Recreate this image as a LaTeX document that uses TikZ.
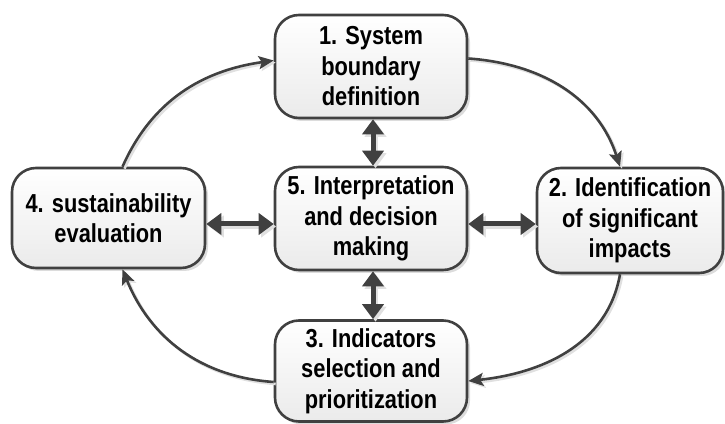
\documentclass[tikz,border=0pt]{standalone}
\usepackage{fontspec}
\setmainfont[FakeStretch=0.84]{Liberation Sans}
\usetikzlibrary{arrows.meta,shadows}
\definecolor{edge}{HTML}{404040}
\definecolor{shade}{HTML}{DCDCDC}
\begin{document}
\begin{tikzpicture}[x=1pt,y=1pt,
  box/.style={rounded corners=24pt, draw=edge, line width=2.6pt,
    top color=white, bottom color=black!8, align=center, inner sep=0pt,
    font=\fontsize{26}{30.5}\selectfont\bfseries,
    drop shadow={shadow xshift=3pt, shadow yshift=-3pt, fill=shade, opacity=1}},
  flow/.style={draw=edge, line width=2.6pt, -{Stealth[length=15pt,width=13pt,inset=3pt]},
    preaction={draw=black!12, line width=2.6pt, transform canvas={xshift=2pt,yshift=-2pt}}},
  dbl/.style={draw=edge, line width=5pt, {Triangle[length=15pt,width=21pt]}-{Triangle[length=15pt,width=21pt]},
    preaction={draw=black!12, line width=5pt, transform canvas={xshift=2.5pt,yshift=-2.5pt}}}]
\useasboundingbox (0,0) rectangle (725,423);
\node[box, minimum width=192pt, minimum height=103pt] (n1) at (371,356.5) {1. System\\boundary\\definition};
\node[box, minimum width=192pt, minimum height=103pt] (n5) at (371,204.5) {5. Interpretation\\and decision\\making};
\node[box, minimum width=192pt, minimum height=101pt] (n3) at (371,52) {3. Indicators\\selection and\\prioritization};
\node[box, minimum width=186pt, minimum height=105pt] (n2) at (630,202.5) {2. Identification\\of significant\\impacts};
\node[box, minimum width=193pt, minimum height=100pt] (n4) at (108.5,205) {4. sustainability\\evaluation};
\coordinate (hl) at (0,199);
% cycle arrows
\draw[flow] ([xshift=14pt]n4.north) to[out=66, in=188] ([yshift=6pt]n1.west);
\draw[flow] ([yshift=8pt]n1.east) to[out=-4, in=108] ([xshift=-10pt]n2.north);
\draw[flow] ([xshift=-10pt]n2.south) to[out=-100, in=6] ([yshift=-10pt]n3.east);
\draw[flow] ([yshift=-11pt]n3.west) to[out=176, in=-68] ([xshift=14pt]n4.south);
% double arrows
\draw[dbl] ([xshift=2pt]n1.south) -- ([xshift=2pt]n5.north);
\draw[dbl] ([xshift=2pt]n5.south) -- ([xshift=2pt]n3.north);
\draw[dbl] (n4.east |- hl) -- (n5.west |- hl);
\draw[dbl] (n5.east |- hl) -- (n2.west |- hl);
\end{tikzpicture}
\end{document}
